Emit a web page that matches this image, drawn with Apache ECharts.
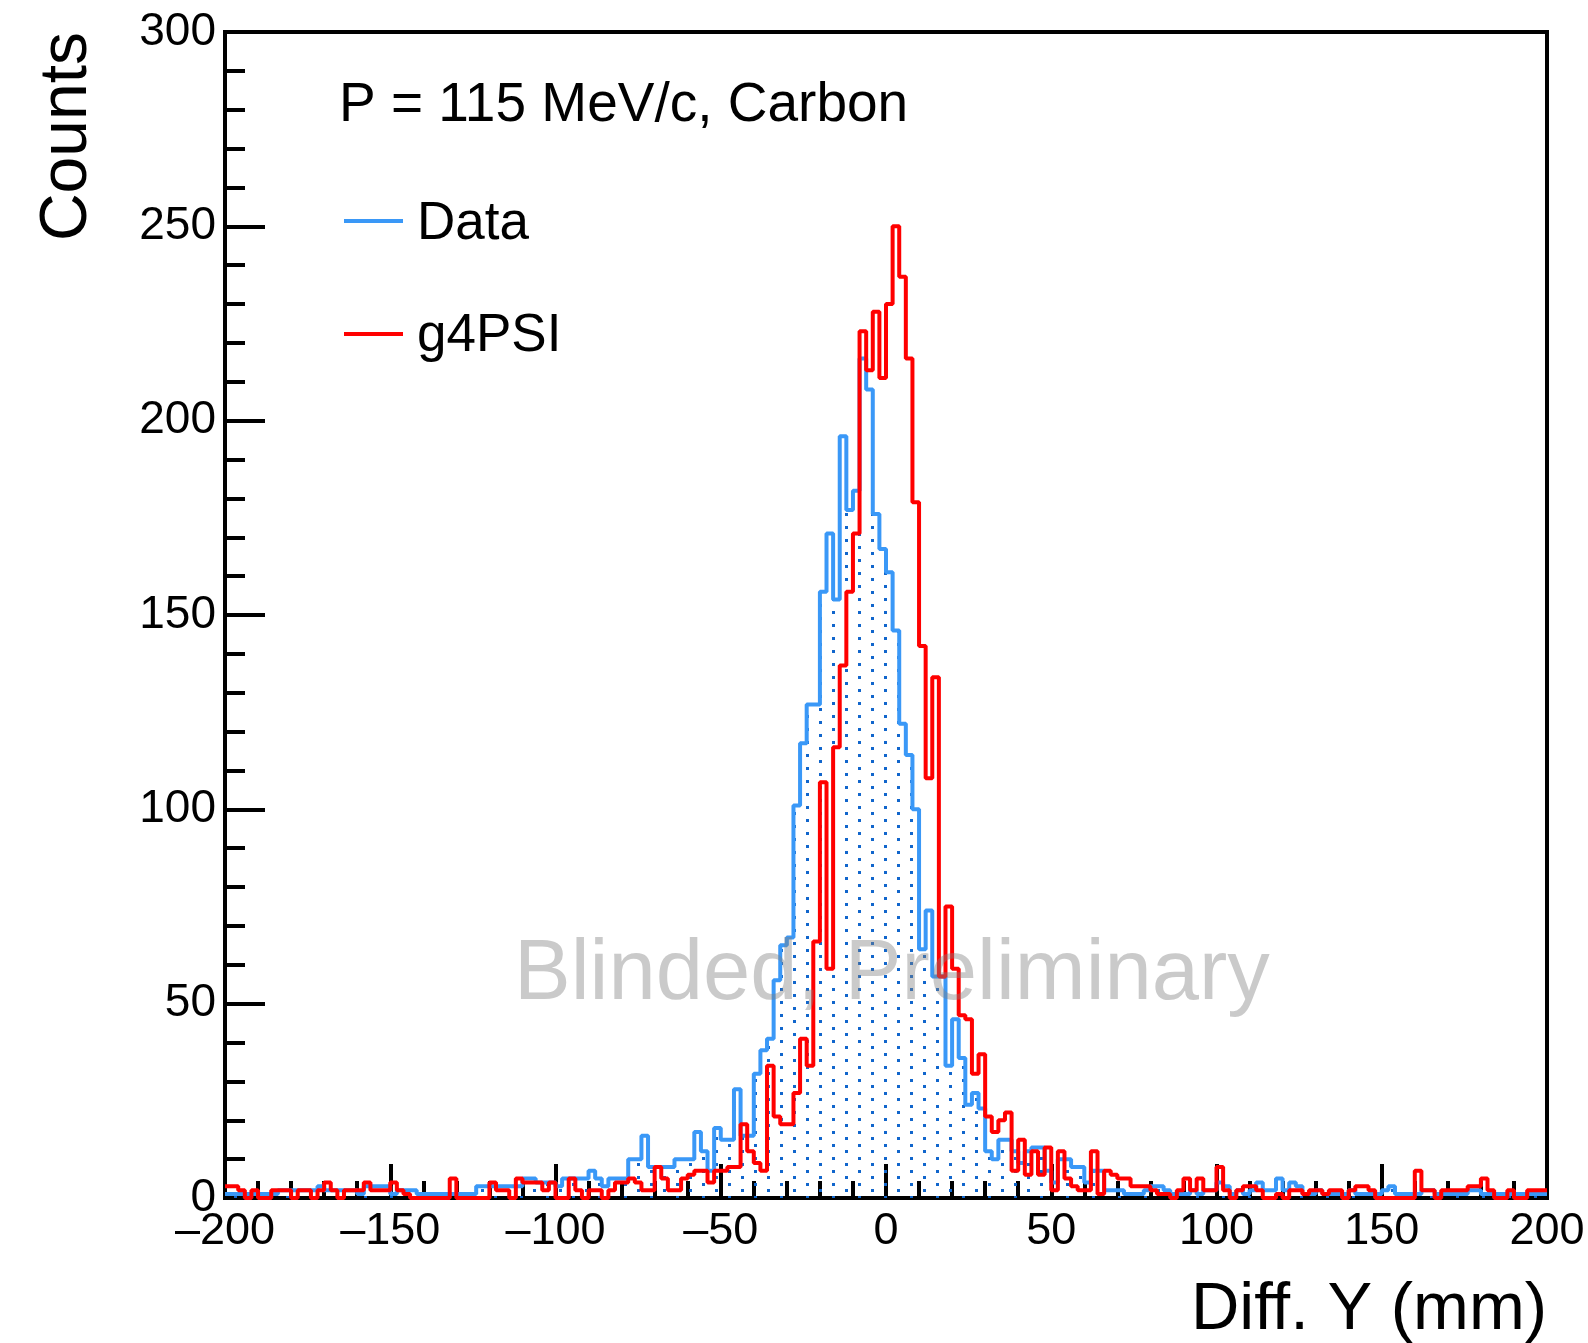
<!DOCTYPE html>
<html>
<head>
<meta charset="utf-8">
<script src="https://cdn.jsdelivr.net/npm/echarts@6/dist/echarts.min.js"></script>
<style>
html,body{margin:0;padding:0;background:#ffffff;}
#chart{width:1588px;height:1343px;}
</style>
</head>
<body>
<div id="chart"></div>
<script>
// ---- data (2 mm bins from -200 to 200) ----
const binStart = -200;
const binWidth = 2;

const dataCounts = [
  1,1,1,1,1,1,1,1,2,2,
  2,2,2,2,3,2,2,2,2,2,
  1,3,3,3,3,1,2,2,2,1,
  1,1,1,1,1,1,1,1,3,3,
  3,3,3,3,3,5,5,4,4,4,
  3,5,5,5,5,7,5,3,5,5,
  5,10,10,16,8,8,8,8,10,10,
  10,17,12,7,18,15,15,28,16,16,
  32,38,41,56,65,67,101,117,127,127,
  156,171,154,196,177,182,216,208,176,167,
  161,146,122,114,100,64,74,57,57,34,
  46,36,24,27,23,12,10,15,15,12,
  9,12,13,13,7,4,10,10,8,8,
  4,7,7,2,2,2,1,1,1,2,
  3,3,2,1,1,1,2,1,2,2,
  4,3,1,2,1,2,4,2,2,5,
  2,4,3,1,1,2,1,1,1,1,
  2,1,1,1,1,2,3,1,1,1,
  1,2,2,1,1,1,1,1,2,2,
  1,1,1,1,1,1,1,1,1,1
];

const g4psiCounts = [
  3,3,2,0,2,0,0,2,2,2,
  0,2,2,0,2,4,2,0,2,2,
  2,4,2,2,2,4,2,1,0,0,
  0,0,0,0,5,0,0,0,0,0,
  4,2,2,0,5,4,4,4,2,4,
  0,0,5,2,0,2,2,0,2,4,
  4,5,4,2,2,8,5,2,2,5,
  6,7,7,4,7,7,8,8,19,12,
  9,7,34,21,19,19,27,41,34,66,
  107,59,116,137,156,171,223,213,228,211,
  230,250,237,216,179,142,108,134,57,75,
  59,47,46,32,37,21,17,20,22,7,
  15,6,12,6,13,2,12,5,3,2,
  2,12,1,7,6,5,5,3,3,3,
  2,1,1,0,2,5,2,5,2,2,
  8,2,0,2,3,3,2,0,0,1,
  0,2,2,1,2,2,1,2,2,0,
  2,3,3,2,0,0,0,0,0,0,
  7,2,2,0,2,2,2,2,3,3,
  5,2,0,0,2,0,0,2,2,2
];

const xTickLabels = ['\u2013200','\u2013150','\u2013100','\u201350','0','50','100','150','200'];
const yTickLabels = ['0','50','100','150','200','250','300'];

const seriesNames = ['Data', 'g4PSI'];
const annotationText = 'P = 115 MeV/c, Carbon';
const watermarkText = 'Blinded, Preliminary';
const xTitle = 'Diff. Y (mm)';
const yTitle = 'Counts';

// ---- helpers ----
const FONT = '"Liberation Sans", Arial, Helvetica, sans-serif';
const BLUE = '#3a98f7';
const RED = '#ff0000';

function stepPoints(counts) {
  const pts = [];
  counts.forEach(function (v, i) {
    const x0 = binStart + i * binWidth;
    pts.push([x0, v], [x0 + binWidth, v]);
  });
  return pts;
}

function dotPattern() {
  const c = document.createElement('canvas');
  c.width = 26; c.height = 13;
  const g = c.getContext('2d');
  g.fillStyle = '#1166cc';
  g.fillRect(0, 0, 3, 3);
  g.fillRect(13, 6, 3, 3);
  return c;
}

const chart = echarts.init(document.getElementById('chart'), null, {renderer: 'canvas'});

const axisCommon = {
  type: 'value',
  axisLine: {show: true, onZero: false, lineStyle: {color: '#000', width: 4}},
  splitLine: {show: false},
  minorSplitLine: {show: false}
};

const option = {
  animation: false,
  backgroundColor: '#ffffff',
  grid: {left: 225, right: 41, top: 32, bottom: 145, show: true, borderColor: '#000', borderWidth: 4, backgroundColor: 'rgba(0,0,0,0)'},
  xAxis: Object.assign({}, axisCommon, {
    min: -200, max: 200, interval: 50,
    axisTick: {show: true, inside: true, length: 34, lineStyle: {color: '#000', width: 4}},
    minorTick: {show: true, splitNumber: 5, length: 17, lineStyle: {color: '#000', width: 4}},
    axisLabel: {
      show: true, color: '#000', fontSize: 45, fontFamily: FONT, margin: 11,
      formatter: function (v) { return xTickLabels[Math.round((v + 200) / 50)]; }
    }
  }),
  yAxis: Object.assign({}, axisCommon, {
    min: 0, max: 300, interval: 50,
    axisTick: {show: true, inside: true, length: 40, lineStyle: {color: '#000', width: 4}},
    minorTick: {show: true, splitNumber: 5, length: 20, lineStyle: {color: '#000', width: 4}},
    axisLabel: {
      show: true, color: '#000', fontSize: 46, fontFamily: FONT, margin: 9,
      formatter: function (v) { return yTickLabels[Math.round(v / 50)]; }
    }
  }),
  series: [
    {
      name: seriesNames[0], type: 'line', data: stepPoints(dataCounts),
      showSymbol: false, symbol: 'none', clip: false,
      lineStyle: {color: BLUE, width: 4},
      itemStyle: {color: BLUE},
      areaStyle: {color: {image: dotPattern(), repeat: 'repeat'}, opacity: 1},
      z: 2
    },
    {
      name: seriesNames[1], type: 'line', data: stepPoints(g4psiCounts),
      showSymbol: false, symbol: 'none', clip: false,
      lineStyle: {color: RED, width: 4},
      itemStyle: {color: RED},
      z: 3
    }
  ],
  graphic: [
    {type: 'text', x: 339, y: 106, z: 10,
     style: {text: annotationText, font: '55px ' + FONT, fill: '#000', align: 'left', verticalAlign: 'middle', textAlign: 'left', textVerticalAlign: 'middle'}},
    {type: 'line', z: 10, shape: {x1: 344, y1: 221, x2: 403, y2: 221}, style: {stroke: BLUE, lineWidth: 4}},
    {type: 'text', x: 417, y: 224, z: 10,
     style: {text: seriesNames[0], font: '53px ' + FONT, fill: '#000', align: 'left', verticalAlign: 'middle', textAlign: 'left', textVerticalAlign: 'middle'}},
    {type: 'line', z: 10, shape: {x1: 344, y1: 334, x2: 403, y2: 334}, style: {stroke: RED, lineWidth: 4}},
    {type: 'text', x: 417, y: 336, z: 10,
     style: {text: seriesNames[1], font: '53px ' + FONT, fill: '#000', align: 'left', verticalAlign: 'middle', textAlign: 'left', textVerticalAlign: 'middle'}},
    {type: 'text', x: 514, y: 976, z: 100,
     style: {text: watermarkText, font: '85px ' + FONT, fill: 'rgba(128,128,128,0.42)', align: 'left', verticalAlign: 'middle', textAlign: 'left', textVerticalAlign: 'middle'}},
    {type: 'text', x: 1547, y: 1311, z: 10,
     style: {text: xTitle, font: '67px ' + FONT, fill: '#000', align: 'right', verticalAlign: 'middle', textAlign: 'right', textVerticalAlign: 'middle'}},
    {type: 'text', x: 68, y: 32, rotation: Math.PI / 2, z: 10,
     style: {text: yTitle, font: '66px ' + FONT, fill: '#000', align: 'right', verticalAlign: 'middle', textAlign: 'right', textVerticalAlign: 'middle'}}
  ]
};

chart.setOption(option);
</script>
</body>
</html>
